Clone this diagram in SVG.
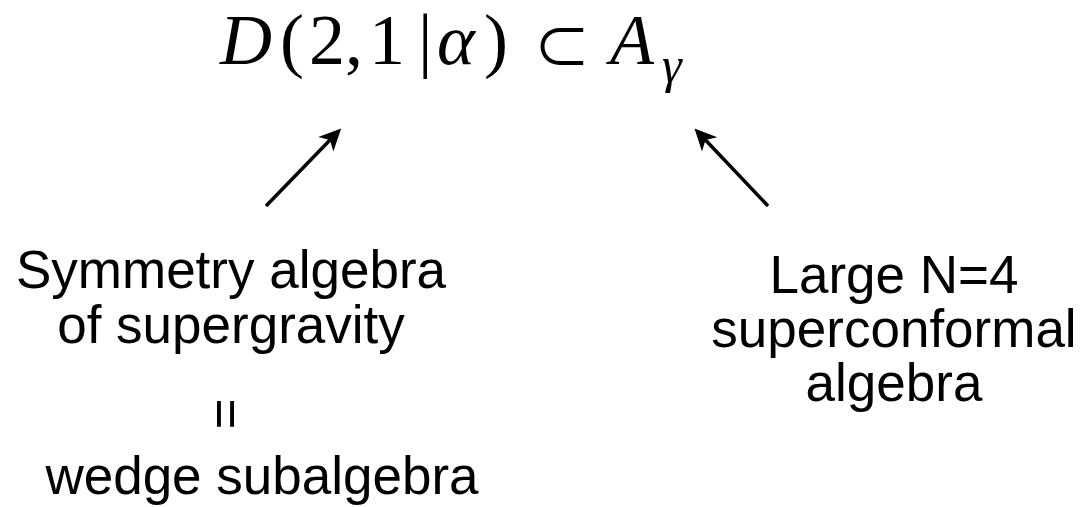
<svg xmlns="http://www.w3.org/2000/svg" width="1083" height="507" viewBox="0 0 1083 507">
<style>
.lbl{font-family:"Liberation Sans",Arial,sans-serif;font-size:53px;fill:#000;text-anchor:middle}
.math{font-family:"Liberation Serif","Times New Roman",serif;font-size:72px;fill:#000}
.it{font-style:italic}
.sym{font-family:"Noto Sans CJK JP","DejaVu Serif",serif;font-size:57px;fill:#000}
.conn{stroke:#000;stroke-width:3.5;fill:none}
</style>
<defs>
<marker id="ah" markerUnits="userSpaceOnUse" markerWidth="40" markerHeight="40" refX="0" refY="0" orient="auto" overflow="visible">
<path d="M16,0 L-6,-10.5 L0,0 L-6,10.5 Z" fill="#000"/>
</marker>
</defs>
<g id="formula">
<text class="math" y="64"><tspan class="it" x="220">D</tspan><tspan x="280">(</tspan><tspan x="309">2</tspan><tspan x="345">,</tspan><tspan x="369">1</tspan><tspan x="418">|</tspan><tspan class="it" x="437">α</tspan><tspan x="484">)</tspan></text>
<text class="sym" x="562" y="68" text-anchor="middle">⊂</text>
<text class="math" y="64"><tspan class="it" x="610">A</tspan><tspan class="it" x="662" y="82" style="font-size:50px">γ</tspan></text>
</g>
<g id="node-symmetry">
<text class="lbl" x="231" y="288">Symmetry algebra</text>
<text class="lbl" x="231" y="343">of supergravity</text>
</g>
<g id="node-equal">
<text class="lbl" x="226.5" y="414" dominant-baseline="central" transform="rotate(90 226.5 414)">=</text>
</g>
<g id="node-wedge">
<text class="lbl" x="262" y="494">wedge subalgebra</text>
</g>
<g id="node-large">
<text class="lbl" x="894" y="293">Large N=4</text>
<text class="lbl" x="894" y="347">superconformal</text>
<text class="lbl" x="894" y="401">algebra</text>
</g>
<g id="connectors">
<line class="conn" x1="266" y1="206" x2="330" y2="140" marker-end="url(#ah)"/>
<line class="conn" x1="768" y1="206" x2="705.5" y2="140" marker-end="url(#ah)"/>
</g>
</svg>
